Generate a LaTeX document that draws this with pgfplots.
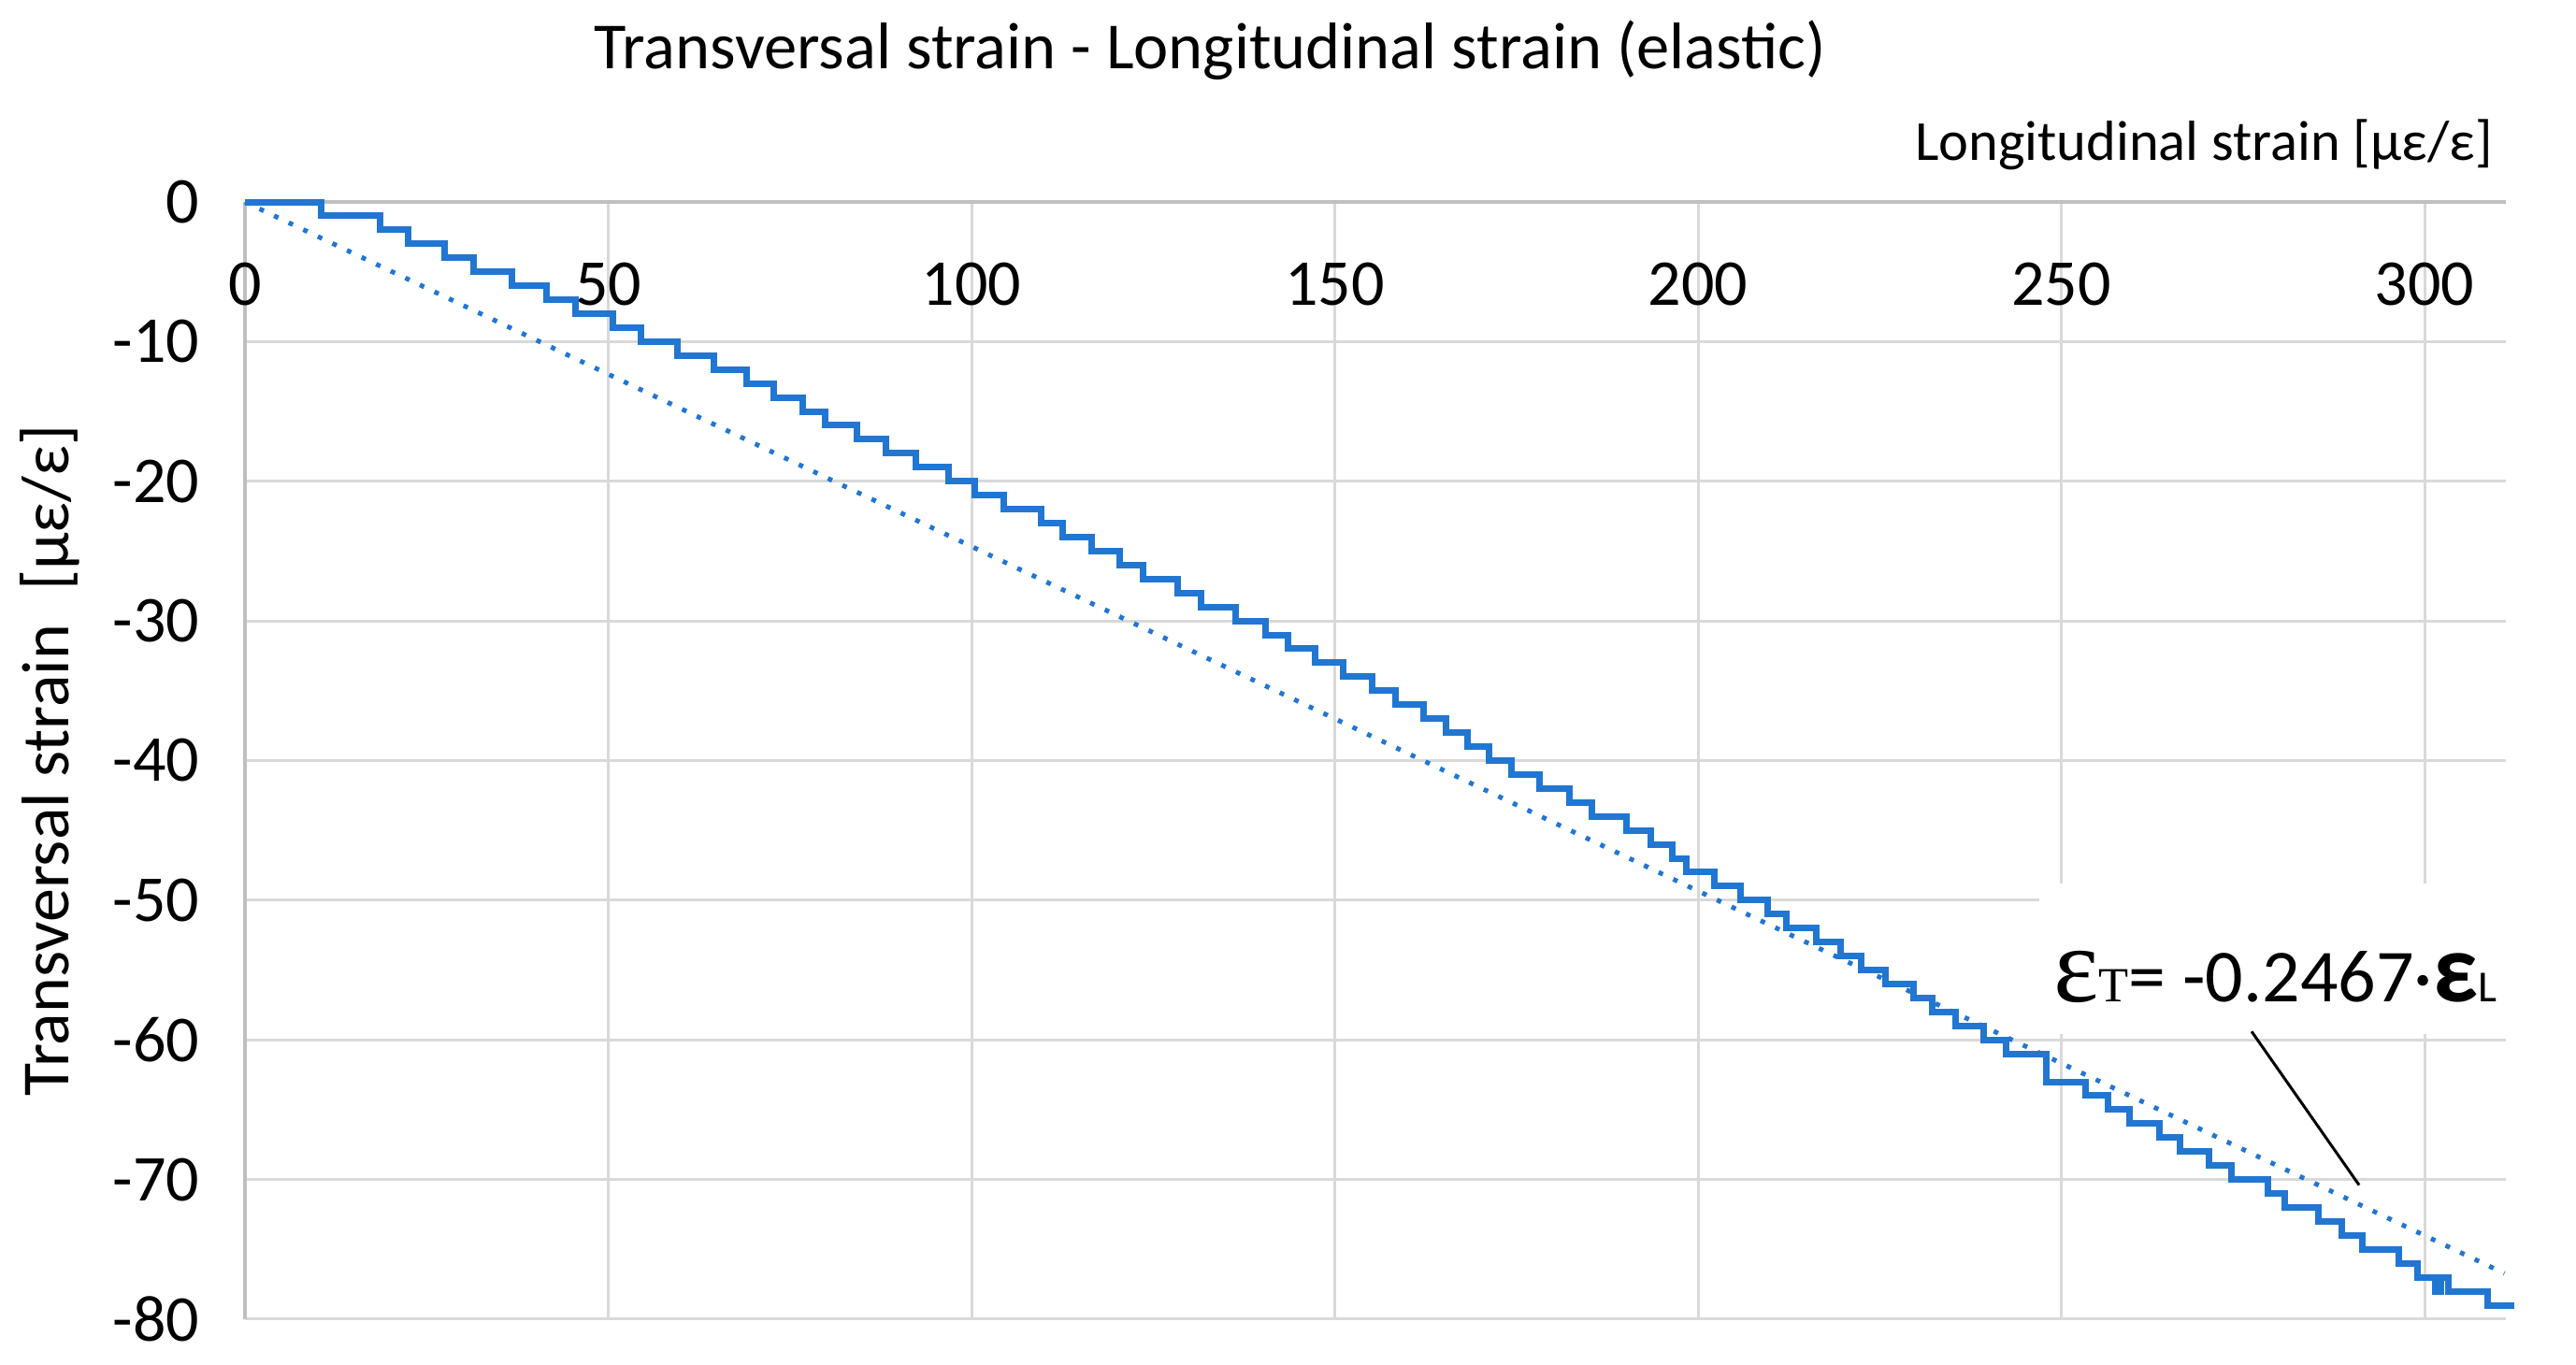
\documentclass[border=0pt]{standalone}
\usepackage{pgfplots}
\pgfplotsset{compat=1.18}
\usepackage{fontspec}
\setmainfont{Carlito}
\newfontfamily\serifeps{Liberation Serif}
\definecolor{serie}{RGB}{33,118,210}
\definecolor{gridc}{RGB}{217,217,217}
\definecolor{axisc}{RGB}{191,191,191}

% measured strain (steps of 1 microstrain), x = start of each level
\pgfplotstableread{
x y
0 0
10.5 -1
18.6 -2
22.5 -3
27.5 -4
31.5 -5
36.8 -6
41.5 -7
45.5 -8
50.7 -9
54.5 -10
59.5 -11
64.5 -12
69.0 -13
72.8 -14
76.8 -15
79.9 -16
84.2 -17
88.2 -18
92.3 -19
96.8 -20
100.5 -21
104.5 -22
109.6 -23
112.6 -24
116.5 -25
120.4 -26
123.6 -27
128.4 -28
131.6 -29
136.4 -30
140.5 -31
143.6 -32
147.3 -33
151.2 -34
155.2 -35
158.4 -36
162.2 -37
165.3 -38
168.3 -39
171.2 -40
174.3 -41
178.2 -42
182.3 -43
185.4 -44
190.2 -45
193.5 -46
196.5 -47
198.4 -48
202.2 -49
205.9 -50
209.6 -51
212.2 -52
216.3 -53
219.6 -54
222.4 -55
225.8 -56
229.7 -57
232.3 -58
235.4 -59
239.3 -60
242.4 -61
248.0 -63
253.3 -64
256.4 -65
259.4 -66
263.5 -67
266.4 -68
270.3 -69
273.4 -70
278.4 -71
280.8 -72
285.4 -73
288.6 -74
291.5 -75
296.5 -76
299.0 -77
301.5 -78
302.3 -77
303.3 -78
308.7 -79
312.3 -79
}\strain

\begin{document}
\begin{tikzpicture}
\begin{axis}[
  scale only axis,
  width=483.6pt, height=239pt,
  xmin=0, xmax=311.2, ymin=-80, ymax=0,
  axis x line*=top, axis y line*=left,
  axis line style={axisc, line width=0.8pt},
  xtick={0,50,...,300}, ytick={-80,-70,...,0},
  major tick length=0pt,
  grid=major, grid style={gridc, line width=0.6pt},
  /pgf/number format/assume math mode=true,
  tick label style={font=\fontsize{14}{14}\selectfont},
  xticklabel style={anchor=center, yshift=-17.6pt},
  yticklabel style={anchor=east, xshift=-6.2pt},
  title={Transversal strain - Longitudinal strain (elastic)},
  title style={at={(axis description cs:0.427,1.111)}, anchor=center, font=\fontsize{14.1}{14.1}\selectfont},
  xlabel={Longitudinal strain [µε/ε]},
  xlabel style={at={(axis description cs:0.9946,1.051)}, anchor=east, inner sep=0pt, font=\fontsize{12.1}{12.1}\selectfont},
  ylabel={Transversal strain\enspace[µε/ε]},
  ylabel style={at={(axis description cs:-0.0864,0.5)}, anchor=center, font=\fontsize{14.4}{14.4}\selectfont},
  clip=false,
]
\addplot[serie, line width=1.4pt, const plot] table[x=x, y=y] {\strain};
\addplot[serie, line width=1pt, dash pattern=on 1pt off 2.45pt] coordinates {(0,0) (311,-76.72)};
% label box for the trend line
\fill[white] (axis cs:247,-48.8) rectangle (axis cs:311.3,-59.6);
\node[anchor=base west, inner sep=0pt] at (axis cs:248.8,-57.3)
  {{\serifeps\fontsize{23}{23}\selectfont ε}{\serifeps\fontsize{10.5}{10.5}\selectfont T}{\fontsize{16}{16}\selectfont= -0.2467·}{\fontsize{21}{21}\selectfont\bfseries ε}{\fontsize{9.5}{9.5}\selectfont L}};
\draw[black, line width=0.6pt] (axis cs:276.2,-59.4) -- (axis cs:291.0,-70.4);
\end{axis}
\pgfresetboundingbox
\path[use as bounding box] ([xshift=-52.4pt,yshift=-9.8pt]current axis.south west) rectangle ([xshift=15pt,yshift=43.2pt]current axis.north east);
\end{tikzpicture}
\end{document}
